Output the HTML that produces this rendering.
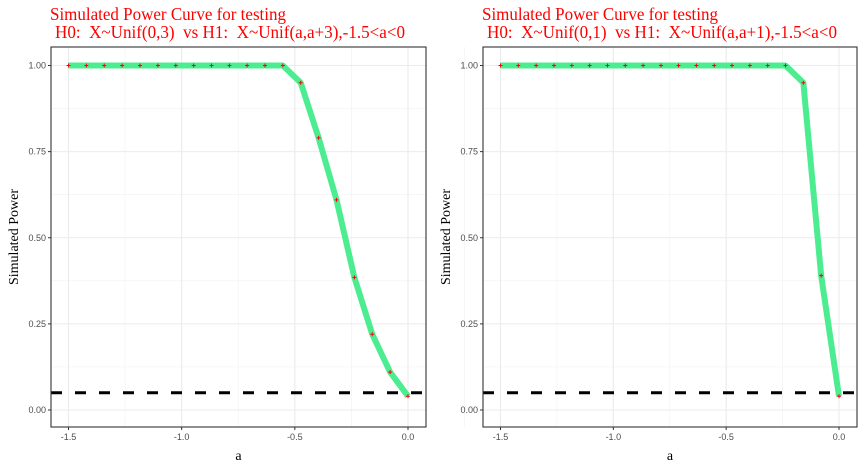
<!DOCTYPE html>
<html><head><meta charset="utf-8"><style>
body{margin:0;background:#fff;width:864px;height:468px;overflow:hidden}
svg text{font-family:"Liberation Sans",sans-serif}
svg text.serif{font-family:"Liberation Serif",serif}
</style></head><body>
<svg id="chart" width="864" height="468" xmlns="http://www.w3.org/2000/svg"></svg>
<script>
const aValsLeft=[-1.5,-1.421,-1.342,-1.263,-1.184,-1.105,-1.026,-0.947,-0.868,-0.789,-0.711,-0.632,-0.553,-0.474,-0.395,-0.316,-0.237,-0.158,-0.079,0];
const powerLeft=[1,1,1,1,1,1,1,1,1,1,1,1,1,0.95,0.79,0.61,0.385,0.22,0.11,0.04];
const aValsRight=[-1.5,-1.421,-1.342,-1.263,-1.184,-1.105,-1.026,-0.947,-0.868,-0.789,-0.711,-0.632,-0.553,-0.474,-0.395,-0.316,-0.237,-0.158,-0.079,0];
const powerRight=[1,1,1,1,1,1,1,1,1,1,1,1,1,1,1,1,1,0.95,0.39,0.04];
const xTicks=[-1.5,-1.0,-0.5,0.0];
const xTickLabels=["-1.5","-1.0","-0.5","0.0"];
const yTicks=[0,0.25,0.5,0.75,1];
const yTickLabels=["0.00","0.25","0.50","0.75","1.00"];
const alphaLevel=0.05;
const titlesL1=["Simulated Power Curve for testing","Simulated Power Curve for testing"];
const titlesL2=["H0:  X~Unif(0,3)  vs H1:  X~Unif(a,a+3),-1.5<a<0","H0:  X~Unif(0,1)  vs H1:  X~Unif(a,a+1),-1.5<a<0"];

const NS="http://www.w3.org/2000/svg";
const svg=document.getElementById('chart');
function mk(tag,attrs,parent,text){const e=document.createElementNS(NS,tag);for(const k in attrs)e.setAttribute(k,attrs[k]);if(text!==undefined)e.textContent=text;(parent||svg).appendChild(e);return e;}

function panel(idx,left,right,xs,ys){
  const top=47,bottom=427;
  const g=mk('g',{});
  
  
  const x0=left+17.5,x1=right-18;
  const X=v=>x0+(v+1.5)/1.5*(x1-x0);
  const Y=v=>410-v*(410-65.5);
  for(let i=0;i<xTicks.length-1;i++){const m=(xTicks[i]+xTicks[i+1])/2;const l=mk('line',{x1:X(m),x2:X(m),y1:top,y2:bottom,stroke:'#f1f1f1','stroke-width':0.6},g);}
  {const l=mk('line',{x1:X(0.25),x2:X(0.25),y1:top,y2:bottom,stroke:'#f1f1f1','stroke-width':0.6},g);}
  for(let i=0;i<yTicks.length-1;i++){const m=(yTicks[i]+yTicks[i+1])/2;const l=mk('line',{x1:left,x2:right,y1:Y(m),y2:Y(m),stroke:'#f1f1f1','stroke-width':0.6},g);}
  xTicks.forEach((t,i)=>{
    const l=mk('line',{x1:X(t),x2:X(t),y1:top,y2:bottom,stroke:'#ebebeb','stroke-width':1.1},g);
    
    mk('line',{x1:X(t),x2:X(t),y1:bottom,y2:bottom+3,stroke:'#333'},g);
    const tx=mk('text',{x:X(t),y:bottom+13,'font-size':9,fill:'#4d4d4d','text-anchor':'middle'},g,xTickLabels[i]);
    
  });
  yTicks.forEach((t,i)=>{
    const l=mk('line',{x1:left,x2:right,y1:Y(t),y2:Y(t),stroke:'#ebebeb','stroke-width':1.1},g);
    
    mk('line',{x1:left-3,x2:left,y1:Y(t),y2:Y(t),stroke:'#333'},g);
    const tx=mk('text',{x:left-5,y:Y(t)+3,'font-size':9,fill:'#4d4d4d','text-anchor':'end'},g,yTickLabels[i]);
    
  });
  const pts=xs.map((v,i)=>X(v)+','+Y(ys[i])).join(' ');
  const pl=mk('polyline',{points:pts,fill:'none',stroke:'#4ced91','stroke-width':6,'stroke-linejoin':'bevel'},g);
  
  const dl=mk('line',{x1:left,x2:right,y1:Y(alphaLevel),y2:Y(alphaLevel),stroke:'#000','stroke-width':3,'stroke-dasharray':'11 13'},g);
  
  xs.forEach((v,i)=>{
    const p=mk('path',{d:`M${X(v)-2},${Y(ys[i])}h4M${X(v)},${Y(ys[i])-2}v4`,stroke:'#ff0000','stroke-width':1},g);
    
  });
  const b=mk('rect',{x:left,y:top,width:right-left,height:bottom-top,fill:'none',stroke:'#333','stroke-width':1.1},g);
  
  const xt=mk('text',{x:(left+right)/2,y:460,'font-size':14,class:'serif','text-anchor':'middle',fill:'#000'},g,'a');
  
  const cy=(top+bottom)/2,cx=left-33;
  const yt=mk('text',{x:cx,y:cy,'font-size':14,class:'serif','text-anchor':'middle',fill:'#000',transform:`rotate(-90 ${cx} ${cy})`},g,'Simulated Power');
  
  const t1=mk('text',{x:left-1,y:20,'font-size':18,class:'serif',fill:'#ff0000',textLength:236,lengthAdjust:'spacingAndGlyphs'},g,titlesL1[idx]);
  
  const t2=mk('text',{x:left+4,y:38,'font-size':18,class:'serif',fill:'#ff0000',textLength:350,lengthAdjust:'spacingAndGlyphs'},g,titlesL2[idx].replace(/ /g,'\u00a0'));
  
}
panel(0,51,426,aValsLeft,powerLeft);
panel(1,483,857,aValsRight,powerRight);
</script>
</body></html>
